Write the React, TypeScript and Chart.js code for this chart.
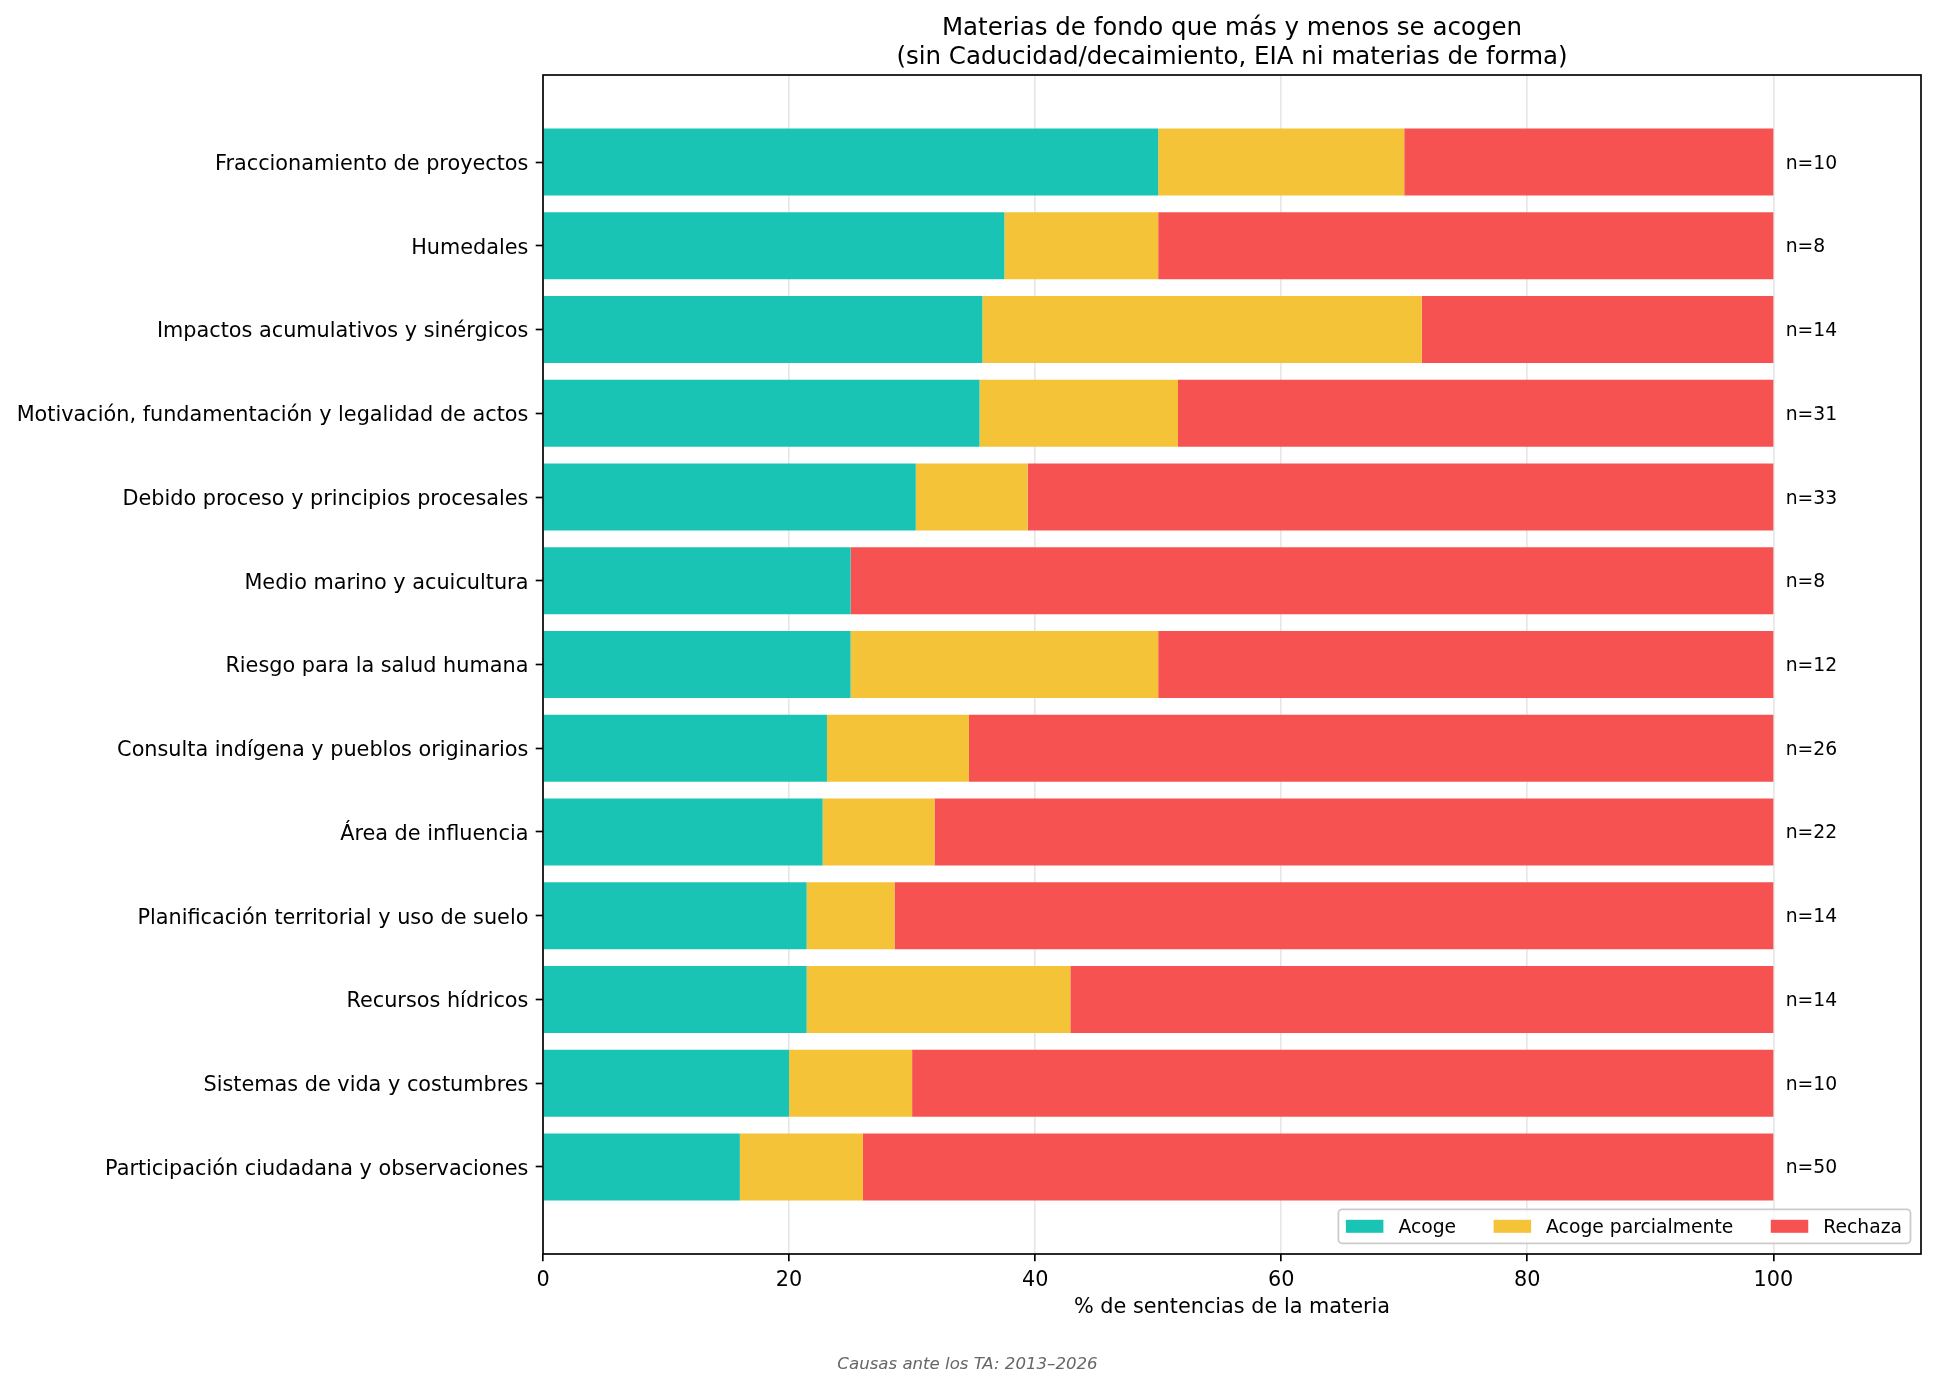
import React, { useEffect, useRef } from 'react';
import { Chart, registerables } from 'chart.js';

Chart.register(...registerables);

const categories = [
  'Fraccionamiento de proyectos',
  'Humedales',
  'Impactos acumulativos y sinérgicos',
  'Motivación, fundamentación y legalidad de actos',
  'Debido proceso y principios procesales',
  'Medio marino y acuicultura',
  'Riesgo para la salud humana',
  'Consulta indígena y pueblos originarios',
  'Área de influencia',
  'Planificación territorial y uso de suelo',
  'Recursos hídricos',
  'Sistemas de vida y costumbres',
  'Participación ciudadana y observaciones',
];

const acoge = [50.0, 37.5, 35.71, 35.48, 30.3, 25.0, 25.0, 23.08, 22.73, 21.43, 21.43, 20.0, 16.0];
const parcial = [20.0, 12.5, 35.71, 16.13, 9.09, 0.0, 25.0, 11.54, 9.09, 7.14, 21.43, 10.0, 10.0];
const rechaza = [30.0, 50.0, 28.58, 48.39, 60.61, 75.0, 50.0, 65.38, 68.18, 71.43, 57.14, 70.0, 74.0];
const nCounts = [10, 8, 14, 31, 33, 8, 12, 26, 22, 14, 14, 10, 50];

const xTicks = [0, 20, 40, 60, 80, 100];
const seriesNames = ['Acoge', 'Acoge parcialmente', 'Rechaza'];
const seriesColors = ['#1AC4B4', '#F4C338', '#F75252'];

const titleLine1 = 'Materias de fondo que más y menos se acogen';
const titleLine2 = '(sin Caducidad/decaimiento, EIA ni materias de forma)';
const xAxisLabel = '% de sentencias de la materia';
const footerText = 'Causas ante los TA: 2013–2026';

const FONT = "'DejaVu Sans', sans-serif";
const W = 1935;
const H = 1387;

export default function App() {
  const ref = useRef<HTMLCanvasElement>(null);

  useEffect(() => {
    document.body.style.margin = '0';
    const canvas = ref.current;
    if (!canvas) return;

    const decor = {
      id: 'mplDecor',
      afterDraw(chart: any) {
        const { ctx, chartArea: a, scales } = chart;
        const xs = scales.x;
        const ys = scales.y;
        ctx.save();

        // spines
        ctx.strokeStyle = '#000';
        ctx.lineWidth = 1.67;
        ctx.strokeRect(a.left, a.top, a.right - a.left, a.bottom - a.top);

        // n labels
        ctx.fillStyle = '#000';
        ctx.font = `18.75px ${FONT}`;
        ctx.textAlign = 'left';
        ctx.textBaseline = 'alphabetic';
        nCounts.forEach((n, i) => {
          ctx.fillText(`n=${n}`, xs.getPixelForValue(101), ys.getPixelForValue(i) + 6.5);
        });

        // legend
        const fs = 18.75;
        ctx.font = `${fs}px ${FONT}`;
        const tw = seriesNames.map((s) => ctx.measureText(s).width);
        const pad = 0.4 * fs;
        const hl = 2 * fs;
        const htp = 0.8 * fs;
        const cs = 2 * fs;
        const inner = tw.reduce((s, w) => s + w, 0) + 3 * (hl + htp) + 2 * cs;
        const bw = inner + 2 * pad + 1;
        const bh = 34;
        const bx = a.right - 10.5 - bw;
        const by = a.bottom - 10.7 - bh;
        const r = 3.75;
        ctx.beginPath();
        ctx.moveTo(bx + r, by);
        ctx.lineTo(bx + bw - r, by);
        ctx.arcTo(bx + bw, by, bx + bw, by + r, r);
        ctx.lineTo(bx + bw, by + bh - r);
        ctx.arcTo(bx + bw, by + bh, bx + bw - r, by + bh, r);
        ctx.lineTo(bx + r, by + bh);
        ctx.arcTo(bx, by + bh, bx, by + bh - r, r);
        ctx.lineTo(bx, by + r);
        ctx.arcTo(bx, by, bx + r, by, r);
        ctx.closePath();
        ctx.fillStyle = 'rgba(255,255,255,0.8)';
        ctx.fill();
        ctx.strokeStyle = '#cccccc';
        ctx.lineWidth = 1.8;
        ctx.stroke();
        const cy = by + bh / 2;
        let lx = bx + pad;
        seriesNames.forEach((name, k) => {
          ctx.fillStyle = seriesColors[k];
          ctx.fillRect(lx, cy - 6.5, hl, 13);
          ctx.fillStyle = '#000';
          ctx.textAlign = 'left';
          ctx.fillText(name, lx + hl + htp, cy + 7);
          lx += hl + htp + tw[k] + cs;
        });

        // title
        const cx = (a.left + a.right) / 2;
        ctx.fillStyle = '#000';
        ctx.textAlign = 'center';
        ctx.font = `24.5px ${FONT}`;
        ctx.fillText(titleLine1, cx, 34.8);
        ctx.fillText(titleLine2, cx, 63.5);

        // x axis label
        ctx.font = `20.8px ${FONT}`;
        ctx.fillText(xAxisLabel, cx, a.bottom + 59.3);

        // footer
        ctx.font = `italic 16.6px ${FONT}`;
        ctx.fillStyle = '#666666';
        ctx.fillText(footerText, W / 2, 1369.3);

        ctx.restore();
      },
    };

    const chart = new Chart(canvas, {
      type: 'bar',
      data: {
        datasets: [acoge, parcial, rechaza].map((vals, k) => ({
          label: seriesNames[k],
          data: vals.map((v, i) => ({ x: v, y: i })),
          backgroundColor: seriesColors[k],
          borderWidth: 0,
          barPercentage: 0.8,
          categoryPercentage: 1,
        })),
      },
      options: {
        indexAxis: 'y',
        animation: false,
        responsive: false,
        devicePixelRatio: 1,
        layout: { padding: { top: 75, right: 14, bottom: 0, left: 0 } },
        plugins: {
          legend: { display: false },
          title: { display: false },
          tooltip: { enabled: false },
        },
        scales: {
          x: {
            type: 'linear',
            min: 0,
            max: 112,
            stacked: true,
            position: 'bottom',
            offset: false,
            z: 1,
            afterBuildTicks: (s: any) => {
              s.ticks = xTicks.map((v) => ({ value: v }));
            },
            afterFit: (s: any) => {
              s.height = 133;
            },
            grid: {
              offset: false,
              color: 'rgba(176,176,176,0.3)',
              lineWidth: 1.67,
              drawTicks: true,
              tickLength: 7.3,
              tickColor: '#000',
              tickWidth: 1.67,
            },
            border: { display: false },
            ticks: {
              font: { family: FONT, size: 20.8 },
              color: '#000',
              padding: 7.3,
              maxRotation: 0,
              autoSkip: false,
              callback: (v: any) => String(v),
            },
          },
          y: {
            type: 'linear',
            min: -1.04,
            max: 13.04,
            reverse: true,
            stacked: true,
            offset: false,
            afterBuildTicks: (s: any) => {
              s.ticks = categories.map((_, i) => ({ value: i }));
            },
            afterFit: (s: any) => {
              s.width = 543;
            },
            grid: {
              offset: false,
              drawOnChartArea: false,
              drawTicks: true,
              tickLength: 7.3,
              tickColor: '#000',
              tickWidth: 1.67,
            },
            border: { display: false },
            ticks: {
              font: { family: FONT, size: 20.8, lineHeight: '5px' },
              color: '#000',
              padding: 7.3,
              autoSkip: false,
              callback: (v: any) => (categories[v] !== undefined ? ['', categories[v]] : ''),
            },
          },
        },
      },
      plugins: [decor],
    } as any);

    return () => {
      chart.destroy();
    };
  }, []);

  return (
    <div style={{ width: W, height: H, background: '#fff' }}>
      <canvas ref={ref} width={W} height={H} style={{ display: 'block', width: W, height: H }} />
    </div>
  );
}
